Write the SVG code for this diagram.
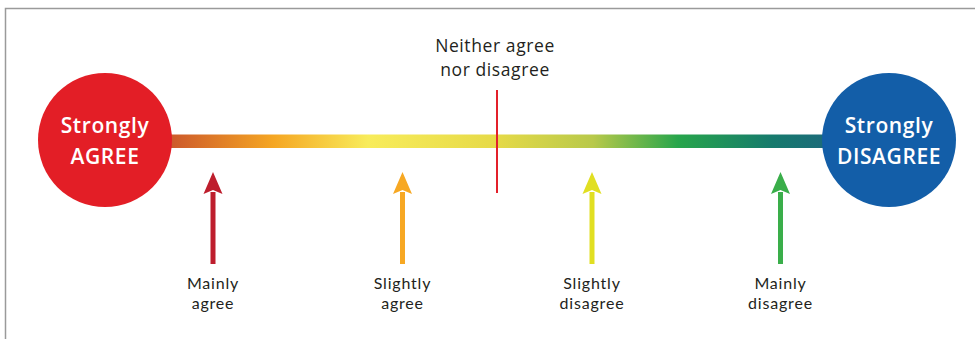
<svg xmlns="http://www.w3.org/2000/svg" width="975" height="339" viewBox="0 0 975 339">
  <defs>
    <linearGradient id="scale" x1="172" y1="0" x2="825" y2="0" gradientUnits="userSpaceOnUse">
      <stop offset="0" stop-color="#cd5a2b"/>
      <stop offset="0.155" stop-color="#f5a623"/>
      <stop offset="0.3" stop-color="#f8ec5b"/>
      <stop offset="0.495" stop-color="#e6da48"/>
      <stop offset="0.645" stop-color="#b8c94a"/>
      <stop offset="0.775" stop-color="#27a54b"/>
      <stop offset="0.92" stop-color="#167a6d"/>
      <stop offset="1" stop-color="#1c6b7a"/>
    </linearGradient>
    <style>
      .frame { stroke: #9a9a9a; stroke-width: 1.5; fill: none; }
      .circleText { font-family: "Open Sans", "Liberation Sans", sans-serif; font-weight: 600; font-size: 21px; fill: #ffffff; text-anchor: middle; letter-spacing: 0.6px; }
      .label { font-family: Lato, "Open Sans", sans-serif; font-size: 16px; fill: #231f20; text-anchor: middle; letter-spacing: 0.8px; }
      .title { font-family: "Open Sans", "Liberation Sans", sans-serif; font-size: 17.5px; fill: #231f20; text-anchor: middle; letter-spacing: 0.6px; }
    </style>
  </defs>

  <rect width="975" height="339" fill="#ffffff"/>
  <path class="frame" d="M5.5 339 V8.5 H975"/>

  <g id="connectors">
    <rect x="170" y="134.5" width="657" height="13.5" fill="url(#scale)"/>
    <line x1="497" y1="90" x2="497" y2="193" stroke="#e3202a" stroke-width="2"/>
  </g>

  <g id="neutral">
    <text class="title" x="495" y="52">Neither agree</text>
    <text class="title" x="495" y="76">nor disagree</text>
  </g>

  <g id="strongly-agree">
    <circle cx="105" cy="140" r="67" fill="#e31e26"/>
    <text class="circleText" x="105" y="133">Strongly</text>
    <text class="circleText" x="105" y="164">AGREE</text>
  </g>

  <g id="strongly-disagree">
    <circle cx="889" cy="140" r="67" fill="#135ea8"/>
    <text class="circleText" x="889" y="133">Strongly</text>
    <text class="circleText" x="889" y="164">DISAGREE</text>
  </g>

  <g id="mainly-agree">
    <rect x="210.5" y="192" width="5" height="72" fill="#be1e2d"/>
    <polygon points="213,172 222.5,194 213,190 203.5,194" fill="#be1e2d"/>
    <text class="label" x="213" y="289">Mainly</text>
    <text class="label" x="213" y="308.5">agree</text>
  </g>

  <g id="slightly-agree">
    <rect x="400" y="192" width="5" height="72" fill="#f7a823"/>
    <polygon points="402.5,172 412,194 402.5,190 393,194" fill="#f7a823"/>
    <text class="label" x="402.5" y="289">Slightly</text>
    <text class="label" x="402.5" y="308.5">agree</text>
  </g>

  <g id="slightly-disagree">
    <rect x="589.5" y="192" width="5" height="72" fill="#e1df22"/>
    <polygon points="592,172 601.5,194 592,190 582.5,194" fill="#e1df22"/>
    <text class="label" x="592" y="289">Slightly</text>
    <text class="label" x="592" y="308.5">disagree</text>
  </g>

  <g id="mainly-disagree">
    <rect x="778" y="192" width="5" height="72" fill="#3aae4a"/>
    <polygon points="780.5,172 790,194 780.5,190 771,194" fill="#3aae4a"/>
    <text class="label" x="780.5" y="289">Mainly</text>
    <text class="label" x="780.5" y="308.5">disagree</text>
  </g>
</svg>
